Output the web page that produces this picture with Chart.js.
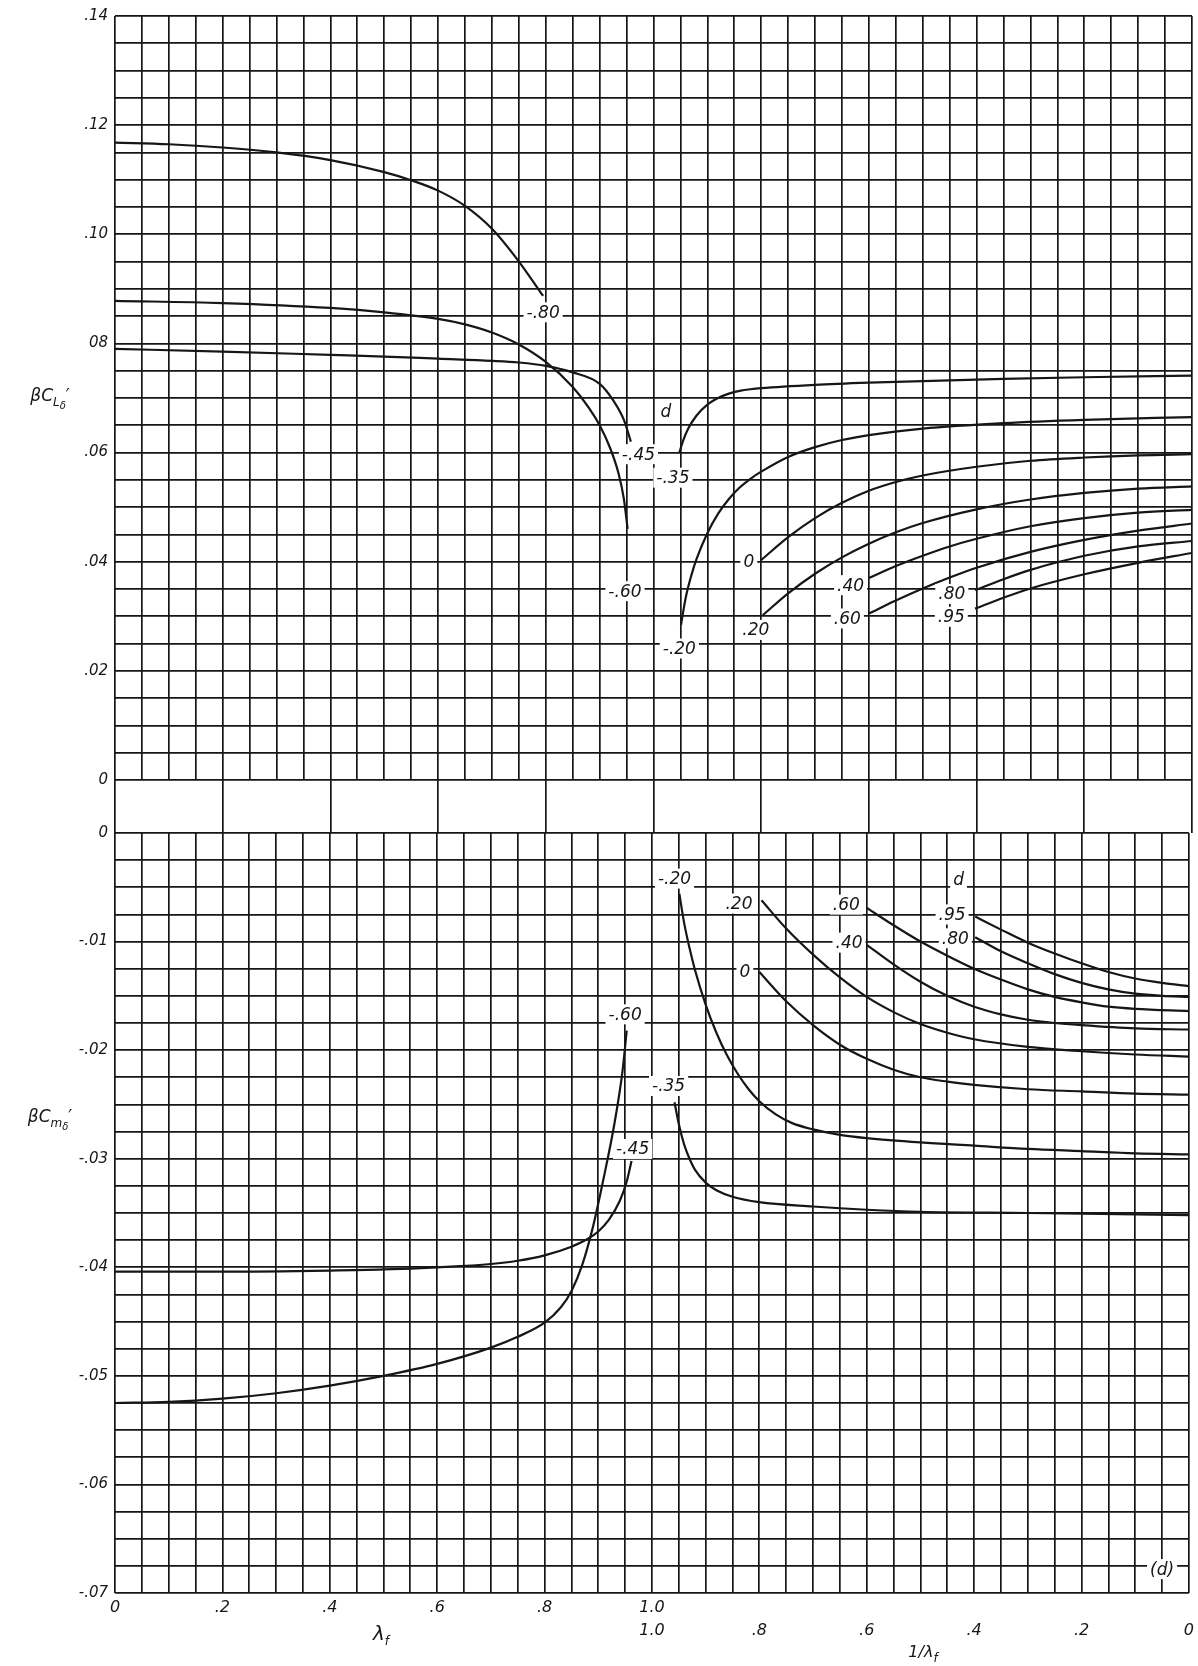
<!DOCTYPE html>
<html>
<head>
<meta charset="utf-8">
<title>βC_Lδ' and βC_mδ' against λf and 1/λf</title>
<script src="https://cdn.jsdelivr.net/npm/chart.js@4.4.1/dist/chart.umd.min.js"></script>
<style>
  html, body { margin: 0; padding: 0; background: #fff; }
  #page { position: relative; width: 1198px; height: 1666px; overflow: hidden;
          font-family: 'DejaVu Sans', sans-serif; font-style: italic; color: #161616; }
  canvas { position: absolute; left: 0; top: 0; }
  .ttl { position: absolute; white-space: nowrap; transform: translate(-50%, -50%); line-height: 1; }
  .ttl .s1 { font-size: 12px; position: relative; top: 5px; }
  .ttl .s2 { font-size: 10px; position: relative; top: 3px; }
</style>
</head>
<body>
<div id="page">
  <canvas id="cTop" width="1198" height="1666"></canvas>
  <canvas id="cGap" width="1198" height="1666"></canvas>
  <canvas id="cBot" width="1198" height="1666"></canvas>

  <div class="ttl" style="left:50px; top:395px; font-size:17px;">βC<span class="s1">L<span class="s2">δ</span></span>′</div>
  <div class="ttl" style="left:50px; top:1116px; font-size:17px;">βC<span class="s1">m<span class="s2">δ</span></span>′</div>
  <div class="ttl" style="left:381px; top:1633px; font-size:20px;">λ<span class="s1">f</span></div>
  <div class="ttl" style="left:923px; top:1652px; font-size:16px;">1/λ<span class="s1">f</span></div>
</div>

<script>
// ---- данные ----
// левая половина: x = λf (0..1), правая половина: x = 1/λf (1..0)

// βC_Lδ', левая часть (λf)
const liftLamM80 = [[0, 0.1168], [0.1, 0.1165], [0.2, 0.1159], [0.3, 0.1150], [0.4, 0.1136], [0.5, 0.1114],
  [0.55, 0.1099], [0.6, 0.1080], [0.65, 0.1052], [0.7, 0.1010], [0.75, 0.0950], [0.795, 0.0887]];
const liftLamM60 = [[0, 0.0878], [0.2, 0.0874], [0.4, 0.0865], [0.5, 0.0857], [0.6, 0.0845], [0.65, 0.0835],
  [0.7, 0.0820], [0.75, 0.0798], [0.8, 0.0766], [0.85, 0.0720], [0.88, 0.0682], [0.9, 0.0650],
  [0.92, 0.0607], [0.935, 0.0562], [0.945, 0.0515], [0.952, 0.0460]];
const liftLamM45 = [[0, 0.0790], [0.2, 0.0785], [0.4, 0.0779], [0.5, 0.0776], [0.6, 0.0772], [0.7, 0.0768],
  [0.75, 0.0765], [0.8, 0.0759], [0.85, 0.0747], [0.9, 0.0726], [0.925, 0.0696], [0.945, 0.0660],
  [0.958, 0.0620]];

// βC_Lδ', правая часть (1/λf)
const liftInvM35 = [[0.952, 0.0600], [0.945, 0.0622], [0.935, 0.0645], [0.92, 0.0668], [0.9, 0.0688],
  [0.88, 0.0700], [0.86, 0.0708], [0.84, 0.0713], [0.82, 0.0716], [0.8, 0.0718], [0.7, 0.0724],
  [0.6, 0.0728], [0.5, 0.0731], [0.35, 0.0735], [0.2, 0.0738], [0, 0.0741]];
const liftInvM20 = [[0.949, 0.0284], [0.94, 0.0335], [0.93, 0.0374], [0.92, 0.0405], [0.9, 0.0452],
  [0.88, 0.0488], [0.86, 0.0515], [0.84, 0.0536], [0.82, 0.0552], [0.8, 0.0565], [0.75, 0.0592],
  [0.7, 0.0610], [0.65, 0.0623], [0.6, 0.0632], [0.5, 0.0644], [0.35, 0.0654], [0.2, 0.0660], [0, 0.0665]];
const liftInv0 = [[0.8, 0.0403], [0.75, 0.0445], [0.7, 0.0480], [0.65, 0.0508], [0.6, 0.0530], [0.55, 0.0546],
  [0.5, 0.0558], [0.4, 0.0574], [0.3, 0.0585], [0.2, 0.0591], [0.1, 0.0595], [0, 0.0597]];
const liftInv20 = [[0.797, 0.0302], [0.75, 0.0342], [0.7, 0.0378], [0.65, 0.0408], [0.6, 0.0433], [0.55, 0.0454],
  [0.5, 0.0471], [0.4, 0.0496], [0.3, 0.0514], [0.2, 0.0526], [0.1, 0.0534], [0, 0.0538]];
const liftInv40 = [[0.6, 0.0370], [0.55, 0.0392], [0.5, 0.0411], [0.45, 0.0428], [0.4, 0.0442], [0.3, 0.0465],
  [0.2, 0.0480], [0.1, 0.0490], [0, 0.0495]];
const liftInv60 = [[0.6, 0.0305], [0.55, 0.0329], [0.5, 0.0351], [0.45, 0.0371], [0.4, 0.0389], [0.3, 0.0418],
  [0.2, 0.0440], [0.1, 0.0457], [0, 0.0470]];
const liftInv80 = [[0.403, 0.0348], [0.35, 0.0368], [0.3, 0.0385], [0.25, 0.0399], [0.2, 0.0411], [0.1, 0.0428],
  [0, 0.0438]];
const liftInv95 = [[0.403, 0.0314], [0.35, 0.0334], [0.3, 0.0351], [0.2, 0.0377], [0.1, 0.0398], [0, 0.0416]];

// βC_mδ', левая часть (λf)
const momLamM45 = [[0, -0.0404], [0.2, -0.0404], [0.4, -0.0403], [0.5, -0.0402], [0.6, -0.0400], [0.7, -0.0397],
  [0.75, -0.0394], [0.8, -0.0389], [0.85, -0.0381], [0.88, -0.0374], [0.9, -0.0367], [0.92, -0.0356],
  [0.94, -0.0339], [0.953, -0.0321], [0.962, -0.0302]];
const momLamM60 = [[0, -0.0525], [0.1, -0.0524], [0.2, -0.0521], [0.3, -0.0516], [0.4, -0.0509], [0.5, -0.0500],
  [0.6, -0.0489], [0.7, -0.0474], [0.75, -0.0464], [0.8, -0.0451], [0.83, -0.0437], [0.85, -0.0422],
  [0.87, -0.0398], [0.89, -0.0363], [0.91, -0.0318], [0.93, -0.0268], [0.945, -0.0220], [0.953, -0.0182]];

// βC_mδ', правая часть (1/λf)
const momInvM20 = [[0.949, -0.0056], [0.94, -0.0083], [0.93, -0.0106], [0.92, -0.0126], [0.9, -0.0158],
  [0.88, -0.0184], [0.86, -0.0205], [0.84, -0.0222], [0.82, -0.0236], [0.8, -0.0247], [0.77, -0.0259],
  [0.74, -0.0267], [0.7, -0.0273], [0.65, -0.0278], [0.6, -0.0281], [0.5, -0.0285], [0.4, -0.0288],
  [0.3, -0.0291], [0.2, -0.0293], [0.1, -0.0295], [0, -0.0296]];
const momInvM35 = [[0.958, -0.0248], [0.95, -0.0268], [0.94, -0.0287], [0.93, -0.0300], [0.92, -0.0310],
  [0.9, -0.0322], [0.88, -0.0329], [0.85, -0.0335], [0.8, -0.0340], [0.7, -0.0344], [0.6, -0.0347],
  [0.5, -0.0349], [0.3, -0.0350], [0, -0.0352]];
const momInv0 = [[0.8, -0.0128], [0.75, -0.0155], [0.7, -0.0177], [0.65, -0.0195], [0.6, -0.0208], [0.55, -0.0218],
  [0.5, -0.0225], [0.45, -0.0229], [0.4, -0.0232], [0.3, -0.0236], [0.2, -0.0238], [0.1, -0.0240], [0, -0.0241]];
const momInv20 = [[0.796, -0.0062], [0.75, -0.0088], [0.7, -0.0112], [0.65, -0.0133], [0.6, -0.0151], [0.55, -0.0165],
  [0.5, -0.0176], [0.45, -0.0184], [0.4, -0.0190], [0.3, -0.0197], [0.2, -0.0201], [0.1, -0.0204], [0, -0.0206]];
const momInv40 = [[0.6, -0.0103], [0.55, -0.0121], [0.5, -0.0137], [0.45, -0.0150], [0.4, -0.0160], [0.35, -0.0167],
  [0.3, -0.0172], [0.25, -0.0175], [0.2, -0.0177], [0.1, -0.0180], [0, -0.0181]];
const momInv60 = [[0.6, -0.0069], [0.55, -0.0085], [0.5, -0.0100], [0.45, -0.0113], [0.4, -0.0125], [0.35, -0.0135],
  [0.3, -0.0144], [0.25, -0.0151], [0.2, -0.0156], [0.15, -0.0160], [0.1, -0.0162], [0, -0.0164]];
const momInv80 = [[0.398, -0.0096], [0.35, -0.0109], [0.3, -0.0120], [0.25, -0.0130], [0.2, -0.0138], [0.15, -0.0144],
  [0.1, -0.0148], [0.05, -0.0150], [0, -0.0151]];
const momInv95 = [[0.398, -0.0077], [0.35, -0.0089], [0.3, -0.0101], [0.25, -0.0111], [0.2, -0.0120], [0.15, -0.0128],
  [0.1, -0.0134], [0.05, -0.0138], [0, -0.0141]];

// подписи кривых: [текст, значение по оси, значение по y]
const liftLabelsLam = [['-.80', 0.795, 0.0857], ['-.45', 0.972, 0.0597], ['-.60', 0.947, 0.0346]];
const liftLabelsInv = [['d', 0.977, 0.0675], ['-.35', 0.964, 0.0554], ['-.20', 0.952, 0.0241], ['0', 0.823, 0.0400],
  ['.20', 0.81, 0.0275], ['.40', 0.634, 0.0357], ['.60', 0.64, 0.0296], ['.80', 0.446, 0.0341], ['.95', 0.447, 0.0299]];
const momLabelsLam = [['-.60', 0.95, -0.0167], ['-.45', 0.964, -0.0291]];
const momLabelsInv = [['-.20', 0.958, -0.0042], ['-.35', 0.969, -0.0233], ['.20', 0.838, -0.0065], ['0', 0.827, -0.0128],
  ['.60', 0.638, -0.0066], ['.40', 0.633, -0.0101], ['d', 0.429, -0.0043], ['.95', 0.441, -0.0075],
  ['.80', 0.435, -0.0097], ['(d)', 0.05, -0.0678]];

// подписи делений
const lambdaTicks = ['0', '.2', '.4', '.6', '.8', '1.0'];
const invLambdaTicks = ['1.0', '.8', '.6', '.4', '.2', '0'];
const liftTicks = ['0', '.02', '.04', '.06', '08', '.10', '.12', '.14'];
const momTicks = ['0', '-.01', '-.02', '-.03', '-.04', '-.05', '-.06', '-.07'];

// ---- оформление ----
const INK = '#161616';
const GRID_W = 1.7;
const FONT = "'DejaVu Sans', sans-serif";

// 1/λf откладывается справа налево: позиция на общей оси = 2 - 1/λf
const toAxis = u => 2 - u;

function curve(points, inverse) {
    return {
        data: points.map(([a, v]) => ({ x: inverse ? toAxis(a) : a, y: v })),
        borderColor: INK,
        borderWidth: 2.2,
        pointRadius: 0,
        fill: false,
        cubicInterpolationMode: 'monotone'
    };
}

function labelItems(lam, inv) {
    return lam.map(([t, a, v]) => [t, a, v]).concat(inv.map(([t, a, v]) => [t, toAxis(a), v]));
}

// подписи кривых на белой подложке
const curveLabels = {
    id: 'curveLabels',
    afterDatasetsDraw(chart, args, opts) {
        const items = opts.items || [];
        const { ctx } = chart;
        const xs = chart.scales.x, ys = chart.scales.y;
        ctx.save();
        ctx.font = 'italic 17px ' + FONT;
        ctx.textAlign = 'center';
        ctx.textBaseline = 'middle';
        items.forEach(([text, xv, yv]) => {
            const px = xs.getPixelForValue(xv);
            const py = ys.getPixelForValue(yv);
            const w = ctx.measureText(text).width + 6;
            ctx.fillStyle = '#fff';
            ctx.fillRect(px - w / 2, py - 10, w, 20);
            ctx.fillStyle = INK;
            ctx.fillText(text, px, py + 1);
        });
        ctx.restore();
    }
};

function fixedTicks(from, step, count) {
    return scale => {
        scale.ticks = [];
        for (let i = 0; i <= count; i++) scale.ticks.push({ value: from + i * step });
    };
}

function xLabel(value) {
    const k = Math.round(value * 20);
    if (k % 4 !== 0) return '';
    const j = k / 4;
    if (j < 5) return lambdaTicks[j];
    if (j === 5) return [lambdaTicks[5], invLambdaTicks[0]];
    return ['', invLambdaTicks[j - 5]];
}

function xScale(showLabels, step, count) {
    return {
        type: 'linear',
        min: 0,
        max: 2,
        afterBuildTicks: fixedTicks(0, step, count),
        afterFit: s => { s.height = showLabels ? 73 : 0; },
        grid: { color: INK, lineWidth: GRID_W, drawTicks: false },
        border: { display: false },
        ticks: {
            display: showLabels,
            autoSkip: false,
            maxRotation: 0,
            minRotation: 0,
            padding: 4,
            color: INK,
            font: { family: FONT, size: 16, style: 'italic', lineHeight: 1.4 },
            callback: xLabel
        }
    };
}

function yScale(min, max, step, count, labelFn) {
    return {
        type: 'linear',
        min: min,
        max: max,
        afterBuildTicks: fixedTicks(min, step, count),
        afterFit: s => { s.width = 115; },
        grid: { color: INK, lineWidth: GRID_W, drawTicks: false },
        border: { display: false },
        ticks: {
            autoSkip: false,
            padding: 7,
            color: INK,
            font: { family: FONT, size: 15, style: 'italic' },
            callback: labelFn
        }
    };
}

const baseOptions = {
    responsive: false,
    animation: false,
    devicePixelRatio: 1,
    events: []
};

// верхняя панель: βC_Lδ'
new Chart(document.getElementById('cTop'), {
    type: 'line',
    data: {
        datasets: [
            curve(liftLamM80, false), curve(liftLamM60, false), curve(liftLamM45, false),
            curve(liftInvM35, true), curve(liftInvM20, true), curve(liftInv0, true), curve(liftInv20, true),
            curve(liftInv40, true), curve(liftInv60, true), curve(liftInv80, true), curve(liftInv95, true)
        ]
    },
    options: Object.assign({}, baseOptions, {
        layout: { padding: { top: 15, bottom: 1666 - 780, left: 0, right: 6 } },
        plugins: {
            legend: { display: false },
            tooltip: { enabled: false },
            curveLabels: { items: labelItems(liftLabelsLam, liftLabelsInv) }
        },
        scales: {
            x: xScale(false, 0.05, 40),
            y: yScale(0, 0.14, 0.005, 28, v => {
                const i = Math.round(v / 0.005);
                return i % 4 === 0 ? liftTicks[i / 4] : '';
            })
        }
    }),
    plugins: [curveLabels]
});

// промежуток между панелями: только линии через 0.2
new Chart(document.getElementById('cGap'), {
    type: 'line',
    data: { datasets: [] },
    options: Object.assign({}, baseOptions, {
        layout: { padding: { top: 780, bottom: 1666 - 833, left: 115, right: 6 } },
        plugins: { legend: { display: false }, tooltip: { enabled: false } },
        scales: {
            x: xScale(false, 0.2, 10),
            y: { display: false, min: 0, max: 1 }
        }
    })
});

// нижняя панель: βC_mδ'
new Chart(document.getElementById('cBot'), {
    type: 'line',
    data: {
        datasets: [
            curve(momLamM45, false), curve(momLamM60, false),
            curve(momInvM20, true), curve(momInvM35, true), curve(momInv0, true), curve(momInv20, true),
            curve(momInv40, true), curve(momInv60, true), curve(momInv80, true), curve(momInv95, true)
        ]
    },
    options: Object.assign({}, baseOptions, {
        layout: { padding: { top: 833, bottom: 0, left: 0, right: 6 } },
        plugins: {
            legend: { display: false },
            tooltip: { enabled: false },
            curveLabels: { items: labelItems(momLabelsLam, momLabelsInv) }
        },
        scales: {
            x: xScale(true, 0.05, 40),
            y: yScale(-0.07, 0, 0.0025, 28, v => {
                const i = Math.round(-v / 0.0025);
                return i % 4 === 0 ? momTicks[i / 4] : '';
            })
        }
    }),
    plugins: [curveLabels]
});
</script>
</body>
</html>
